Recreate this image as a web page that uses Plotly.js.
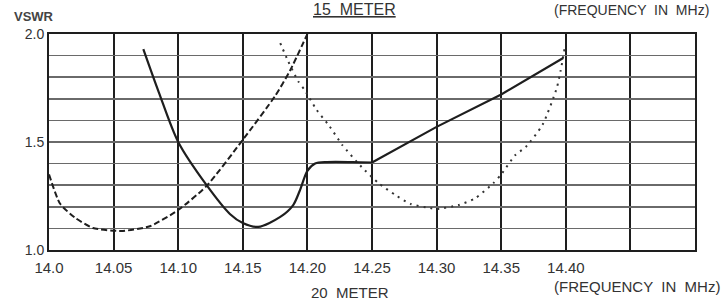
<!DOCTYPE html>
<html>
<head>
<meta charset="utf-8">
<script src="https://cdn.plot.ly/plotly-3.0.1.min.js"></script>
<style>
html,body{margin:0;padding:0;background:#fff;}
#chart{width:726px;height:302px;}
</style>
</head>
<body>
<div id="chart"></div>
<script>
// Solid curve (curved section)
const solidCurveX = [14.073, 14.085, 14.100, 14.122, 14.140, 14.150, 14.162, 14.179, 14.189, 14.194, 14.200, 14.206, 14.215, 14.235, 14.250];
const solidCurveY = [1.93, 1.73, 1.50, 1.30, 1.167, 1.125, 1.107, 1.153, 1.208, 1.273, 1.366, 1.400, 1.407, 1.407, 1.405];
// Solid straight section
const solidLineX = [14.250, 14.300, 14.350, 14.398];
const solidLineY = [1.405, 1.57, 1.72, 1.889];
// Dashed curve
const dashX = [14.000, 14.0085, 14.020, 14.034, 14.056, 14.078, 14.100, 14.122, 14.150, 14.175, 14.1865, 14.200];
const dashY = [1.35, 1.215, 1.15, 1.102, 1.088, 1.11, 1.185, 1.297, 1.51, 1.713, 1.83, 2.00];
// Dotted curve
const dotX = [14.179, 14.185, 14.193, 14.198, 14.207, 14.217, 14.227, 14.242, 14.255, 14.268, 14.280, 14.295, 14.300, 14.317, 14.330, 14.344, 14.350, 14.361, 14.369, 14.382, 14.393, 14.396, 14.399];
const dotY = [1.958, 1.875, 1.78, 1.74, 1.65, 1.574, 1.486, 1.384, 1.31, 1.255, 1.213, 1.194, 1.19, 1.208, 1.24, 1.31, 1.35, 1.44, 1.477, 1.58, 1.75, 1.83, 1.93];
// Axis ticks
const xTickVals = [14.00, 14.05, 14.10, 14.15, 14.20, 14.25, 14.30, 14.35, 14.40, 14.45];
const xTickText = ["14.0", "14.05", "14.10", "14.15", "14.20", "14.25", "14.30", "14.35", "14.40", ""];
const yTickVals = [1.0, 1.1, 1.2, 1.3, 1.4, 1.5, 1.6, 1.7, 1.8, 1.9, 2.0];
const yTickText = ["1.0", "", "", "", "", "1.5", "", "", "", "", "2.0"];

const ink = '#1e1e1e';
const font = 'Liberation Sans, Arial, sans-serif';

const traces = [
  {x: dashX, y: dashY, mode: 'lines', line: {color: ink, width: 2, dash: '6px,3px', shape: 'spline', smoothing: 0.6}, hoverinfo: 'skip'},
  {x: dotX, y: dotY, mode: 'lines', line: {color: '#333', width: 2, dash: '2px,5px', shape: 'spline', smoothing: 0.6}, hoverinfo: 'skip'},
  {x: solidCurveX, y: solidCurveY, mode: 'lines', line: {color: ink, width: 2.2, shape: 'spline', smoothing: 0.8}, hoverinfo: 'skip'},
  {x: solidLineX, y: solidLineY, mode: 'lines', line: {color: ink, width: 2.2}, hoverinfo: 'skip'}
];

const layout = {
  width: 726, height: 302,
  margin: {l: 49, r: 31, t: 34, b: 52},
  paper_bgcolor: '#ffffff', plot_bgcolor: '#ffffff',
  showlegend: false,
  font: {family: font, color: '#333', size: 15},
  xaxis: {
    range: [14.0, 14.5], tickmode: 'array', tickvals: xTickVals, ticktext: xTickText,
    showgrid: true, gridcolor: '#1e1e1e', gridwidth: 2,
    showline: true, linecolor: '#1e1e1e', linewidth: 2, mirror: true,
    ticks: '', zeroline: false, tickfont: {size: 15, family: font, color: '#333'},
    ticklabelstandoff: 3
  },
  yaxis: {
    range: [1.0, 2.0], tickmode: 'array', tickvals: yTickVals, ticktext: yTickText,
    showgrid: true, gridcolor: '#6a6a6a', gridwidth: 1.5,
    showline: true, linecolor: '#1e1e1e', linewidth: 2, mirror: true,
    ticks: '', zeroline: false, tickfont: {size: 14, family: font, color: '#333'},
    ticklabelstandoff: 0
  },
  annotations: [
    {xref: 'paper', yref: 'paper', x: -0.057, y: 1.035, xanchor: 'left', yanchor: 'bottom', text: '<b>VSWR</b>', showarrow: false, font: {size: 13, family: font, color: '#444'}},
    {xref: 'paper', yref: 'paper', x: 0.473, y: 1.065, xanchor: 'center', yanchor: 'bottom', text: '<u>15  METER</u>', showarrow: false, font: {size: 16, family: font, color: '#333'}},
    {xref: 'paper', yref: 'paper', x: 0.778, y: 1.157, xanchor: 'left', yanchor: 'top', text: '(FREQUENCY  IN  MHz)', showarrow: false, font: {size: 14, family: font, color: '#333'}},
    {xref: 'paper', yref: 'paper', x: 0.778, y: -0.17, xanchor: 'left', yanchor: 'middle', text: '(FREQUENCY  IN  MHz)', showarrow: false, font: {size: 15, family: font, color: '#333'}},
    {xref: 'paper', yref: 'paper', x: 0.466, y: -0.197, xanchor: 'center', yanchor: 'middle', text: '20  METER', showarrow: false, font: {size: 15, family: font, color: '#333'}}
  ]
};

Plotly.newPlot('chart', traces, layout, {staticPlot: true, displayModeBar: false});
</script>
</body>
</html>
